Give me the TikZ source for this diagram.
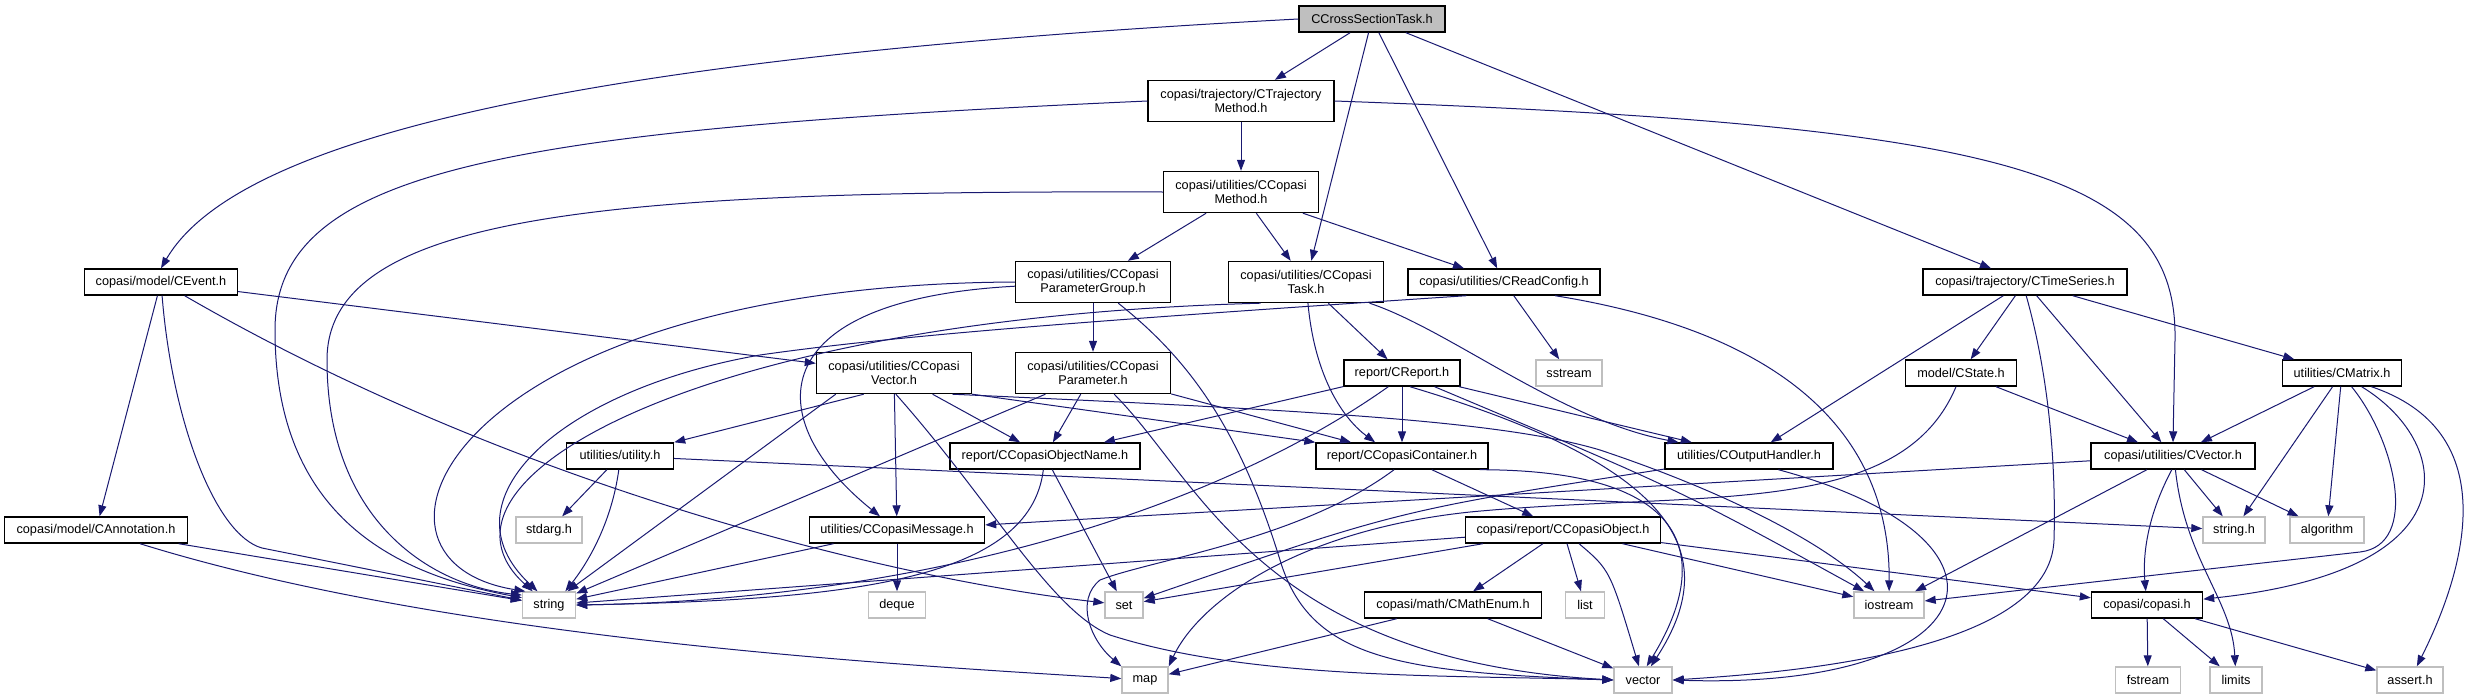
\documentclass[tikz,border=0pt]{standalone}
\usepackage{fontspec}
\setmainfont{Liberation Sans}
\usetikzlibrary{arrows.meta}
\definecolor{incblue}{HTML}{191970}
\definecolor{sysgrey}{HTML}{BFBFBF}

\begin{document}
\begin{tikzpicture}[
    x=1pt, y=-1pt,
    font=\fontsize{12.7pt}{14.5pt}\selectfont,
    box/.style={draw, line width=1.4pt, minimum height=26pt, align=center,
                inner sep=2pt, fill=white},
    hdr/.style={box, draw=black},
    twoline/.style={hdr, minimum height=41pt},
    sys/.style={box, draw=sysgrey},
    focus/.style={hdr, fill=sysgrey},
    incl/.style={-{Triangle[length=11pt,width=8pt]}, line width=1pt, draw=incblue},
  ]
  \useasboundingbox (0,0) rectangle (2466,699);

  % --- File the graph is drawn for ---------------------------------------
  \node[focus, minimum width=146pt] (root) at (1372,19) {CCrossSectionTask.h};

  % --- Project headers ----------------------------------------------------
  \node[twoline, minimum width=186pt] (trajm) at (1241,101)
    {copasi/trajectory/CTrajectory\\Method.h};
  \node[twoline, minimum width=155pt] (copmeth) at (1241,192)
    {copasi/utilities/CCopasi\\Method.h};
  \node[hdr, minimum width=153pt] (cevent) at (161,282) {copasi/model/CEvent.h};
  \node[twoline, minimum width=155pt] (pgroup) at (1093,282)
    {copasi/utilities/CCopasi\\ParameterGroup.h};
  \node[twoline, minimum width=155pt] (ctask) at (1306,282)
    {copasi/utilities/CCopasi\\Task.h};
  \node[hdr, minimum width=192pt] (readcfg) at (1504,282)
    {copasi/utilities/CReadConfig.h};
  \node[hdr, minimum width=204pt] (tseries) at (2025,282)
    {copasi/trajectory/CTimeSeries.h};

  \node[twoline, minimum width=155pt] (cvecp) at (894,373)
    {copasi/utilities/CCopasi\\Vector.h};
  \node[twoline, minimum width=155pt] (param) at (1093,373)
    {copasi/utilities/CCopasi\\Parameter.h};
  \node[hdr, minimum width=116pt] (report) at (1402,373) {report/CReport.h};
  \node[hdr, minimum width=111pt] (cstate) at (1961,373) {model/CState.h};
  \node[hdr, minimum width=119pt] (cmatrix) at (2342,373) {utilities/CMatrix.h};

  \node[hdr, minimum width=107pt] (utility) at (620,456) {utilities/utility.h};
  \node[hdr, minimum width=190pt] (objname) at (1045,456)
    {report/CCopasiObjectName.h};
  \node[hdr, minimum width=172pt] (container) at (1402,456)
    {report/CCopasiContainer.h};
  \node[hdr, minimum width=168pt] (outhandler) at (1749,456)
    {utilities/COutputHandler.h};
  \node[hdr, minimum width=164pt] (cvector) at (2173,456)
    {copasi/utilities/CVector.h};

  \node[hdr, minimum width=183pt] (annot) at (96,530) {copasi/model/CAnnotation.h};
  \node[hdr, minimum width=175pt] (message) at (897,530)
    {utilities/CCopasiMessage.h};
  \node[hdr, minimum width=195pt] (object) at (1563,530)
    {copasi/report/CCopasiObject.h};
  \node[hdr, minimum width=177pt] (mathenum) at (1453,605) {copasi/math/CMathEnum.h};
  \node[hdr, minimum width=111pt] (copasih) at (2147,605) {copasi/copasi.h};

  % --- System headers -----------------------------------------------------
  \node[sys, minimum width=66pt] (sstream) at (1569,373) {sstream};
  \node[sys, minimum width=66pt] (stdarg) at (549,530) {stdarg.h};
  \node[sys, minimum width=62pt] (stringh) at (2234,530) {string.h};
  \node[sys, minimum width=74pt] (algorithm) at (2327,530) {algorithm};
  \node[sys, minimum width=53pt] (string) at (549,605) {string};
  \node[sys, minimum width=57pt] (deque) at (897,605) {deque};
  \node[sys, minimum width=38pt] (set) at (1124,605) {set};
  \node[sys, minimum width=39pt] (list) at (1585,605) {list};
  \node[sys, minimum width=70pt] (iostream) at (1889,605) {iostream};
  \node[sys, minimum width=46pt] (map) at (1145,680) {map};
  \node[sys, minimum width=58pt] (vector) at (1643,680) {vector};
  \node[sys, minimum width=65pt] (fstream) at (2148,680) {fstream};
  \node[sys, minimum width=52pt] (limits) at (2236,680) {limits};
  \node[sys, minimum width=66pt] (asserth) at (2410,680) {assert.h};

  % --- CCrossSectionTask.h ------------------------------------------------
  \draw[incl] (root.west) .. controls (520,60) and (230,150) .. (cevent.north);
  \draw[incl] (root) -- (trajm);
  \draw[incl] (root) -- (ctask);
  \draw[incl] (root) -- (readcfg);
  \draw[incl] (root) -- (tseries);

  % --- CTrajectoryMethod.h / CCopasiMethod.h ------------------------------
  \draw[incl] (trajm) -- (copmeth);
  \draw[incl] (trajm.west) .. controls (500,130) and (275,170) .. (275,330)
    .. controls (275,520) and (400,575) .. (string.165);
  \draw[incl] (trajm.east) .. controls (2000,125) and (2178,170) .. (2175,340)
    -- (cvector.north);
  \draw[incl] (copmeth) -- (pgroup);
  \draw[incl] (copmeth) -- (ctask);
  \draw[incl] (copmeth) -- (readcfg);
  \draw[incl] (copmeth.west) .. controls (600,190) and (327,215) .. (327,360)
    .. controls (327,520) and (430,585) .. (string.160);

  % --- CEvent.h / CAnnotation.h -------------------------------------------
  \draw[incl] (cevent) -- (annot);
  \draw[incl] (cevent) .. controls (172,420) and (215,535) .. (262,548)
    -- (string.170);
  \draw[incl] (cevent) .. controls (520,490) and (900,580) .. (set);
  \draw[incl] (cevent) -- (cvecp);
  \draw[incl] (annot) -- (string);
  \draw[incl] (annot) .. controls (450,640) and (900,665) .. (map);

  % --- CCopasiParameterGroup.h / CCopasiTask.h / CReadConfig.h ------------
  \draw[incl] (pgroup) -- (param);
  \draw[incl] (pgroup.west) .. controls (450,285) and (330,560) .. (string.150);
  \draw[incl] (pgroup) .. controls (760,300) and (760,420) .. (message);
  \draw[incl] (pgroup.-40) .. controls (1190,360) and (1240,430) .. (1280,560)
    .. controls (1310,660) and (1400,672) .. (vector.west);
  \draw[incl] (ctask) -- (report);
  \draw[incl] (ctask.205) .. controls (700,318) and (410,480) .. (string.140);
  \draw[incl] (ctask) .. controls (1315,380) and (1345,420) .. (container.153);
  \draw[incl] (ctask) .. controls (1450,330) and (1560,420) .. (outhandler.169);
  \draw[incl] (readcfg) -- (sstream);
  \draw[incl] (readcfg.200) .. controls (1100,320) and (900,335) .. (760,355)
    .. controls (560,390) and (440,500) .. (string.130);
  \draw[incl] (readcfg.-15) .. controls (1830,340) and (1890,470) .. (iostream);

  % --- CTimeSeries.h ------------------------------------------------------
  \draw[incl] (tseries) -- (outhandler);
  \draw[incl] (tseries) -- (cstate);
  \draw[incl] (tseries) -- (cvector);
  \draw[incl] (tseries) -- (cmatrix);
  \draw[incl] (tseries.-85) .. controls (2050,380) and (2056,470) .. (2054,540)
    .. controls (2050,650) and (1800,672) .. (vector.east);

  % --- CCopasiVector.h / CCopasiParameter.h -------------------------------
  \draw[incl] (cvecp.-145) -- (utility);
  \draw[incl] (cvecp) -- (message);
  \draw[incl] (cvecp) -- (objname);
  \draw[incl] (cvecp.south east) -- (container.north west);
  \draw[incl] (cvecp.-160) -- (string);
  \draw[incl] (cvecp.-85) .. controls (990,500) and (1050,610) .. (1110,635)
    .. controls (1250,680) and (1450,675) .. (vector.west);
  \draw[incl] (cvecp.-20) .. controls (1300,410) and (1500,420) .. (1600,450)
    .. controls (1720,490) and (1820,540) .. (iostream);
  \draw[incl] (param.-156) -- (string);
  \draw[incl] (param) -- (objname);
  \draw[incl] (param) -- (container);
  \draw[incl] (param) .. controls (1200,480) and (1260,660) .. (vector.west);

  % --- CReport.h / CCopasiContainer.h -------------------------------------
  \draw[incl] (report) -- (objname);
  \draw[incl] (report) -- (container);
  \draw[incl] (report) -- (outhandler);
  \draw[incl] (report.-135) .. controls (1200,520) and (900,600) .. (string.east);
  \draw[incl] (report) .. controls (1680,490) .. (iostream);
  \draw[incl] (report.-60) .. controls (1690,470) and (1720,560) .. (vector.60);
  \draw[incl] (container) -- (object);
  \draw[incl] (container.-120) .. controls (1300,540) and (1150,560) .. (1100,580)
    .. controls (1075,600) and (1090,640) .. (map.150);
  \draw[incl] (container.-10) .. controls (1720,470) and (1700,580) .. (vector.75);

  % --- COutputHandler.h / CState.h ----------------------------------------
  \draw[incl] (outhandler) .. controls (1400,510) .. (set);
  \draw[incl] (outhandler.-25) .. controls (2040,540) and (1990,690) .. (vector.east);
  \draw[incl] (cstate) -- (cvector);
  \draw[incl] (cstate.-110) .. controls (1900,520) and (1700,490) .. (1470,512)
    .. controls (1300,530) and (1200,600) .. (map.30);

  % --- CCopasiObject.h / CMathEnum.h --------------------------------------
  \draw[incl] (object) -- (string);
  \draw[incl] (object) -- (set);
  \draw[incl] (object) -- (mathenum);
  \draw[incl] (object) -- (list);
  \draw[incl] (object) .. controls (1610,570) .. (vector);
  \draw[incl] (object) -- (iostream);
  \draw[incl] (object) -- (copasih);
  \draw[incl] (mathenum) -- (map);
  \draw[incl] (mathenum) -- (vector);

  % --- CVector.h / CMatrix.h / copasi.h -----------------------------------
  \draw[incl] (cvector) -- (message);
  \draw[incl] (cvector) -- (iostream);
  \draw[incl] (cvector.-95) .. controls (2145,520) and (2143,560) .. (copasih);
  \draw[incl] (cvector.-80) .. controls (2185,560) and (2232,600) .. (limits);
  \draw[incl] (cvector) -- (stringh);
  \draw[incl] (cvector) -- (algorithm);
  \draw[incl] (cmatrix) -- (cvector);
  \draw[incl] (cmatrix) -- (stringh);
  \draw[incl] (cmatrix) -- (algorithm);
  \draw[incl] (cmatrix.-55) .. controls (2395,440) and (2420,545) .. (2360,552)
    -- (iostream);
  \draw[incl] (cmatrix.-35) .. controls (2450,440) and (2480,570) .. (copasih);
  \draw[incl] (cmatrix.-25) .. controls (2500,430) and (2470,560) .. (asserth);
  \draw[incl] (copasih) -- (fstream);
  \draw[incl] (copasih) -- (limits);
  \draw[incl] (copasih) -- (asserth);

  % --- utility.h / CCopasiMessage.h / CCopasiObjectName.h -----------------
  \draw[incl] (utility) -- (stdarg);
  \draw[incl] (utility.-95) .. controls (612,520) and (590,560) .. (string.40);
  \draw[incl] (utility) -- (stringh);
  \draw[incl] (message) -- (string);
  \draw[incl] (message) -- (deque);
  \draw[incl] (objname) .. controls (1030,580) and (850,600) .. (string.east);
  \draw[incl] (objname) -- (set);

\end{tikzpicture}
\end{document}
